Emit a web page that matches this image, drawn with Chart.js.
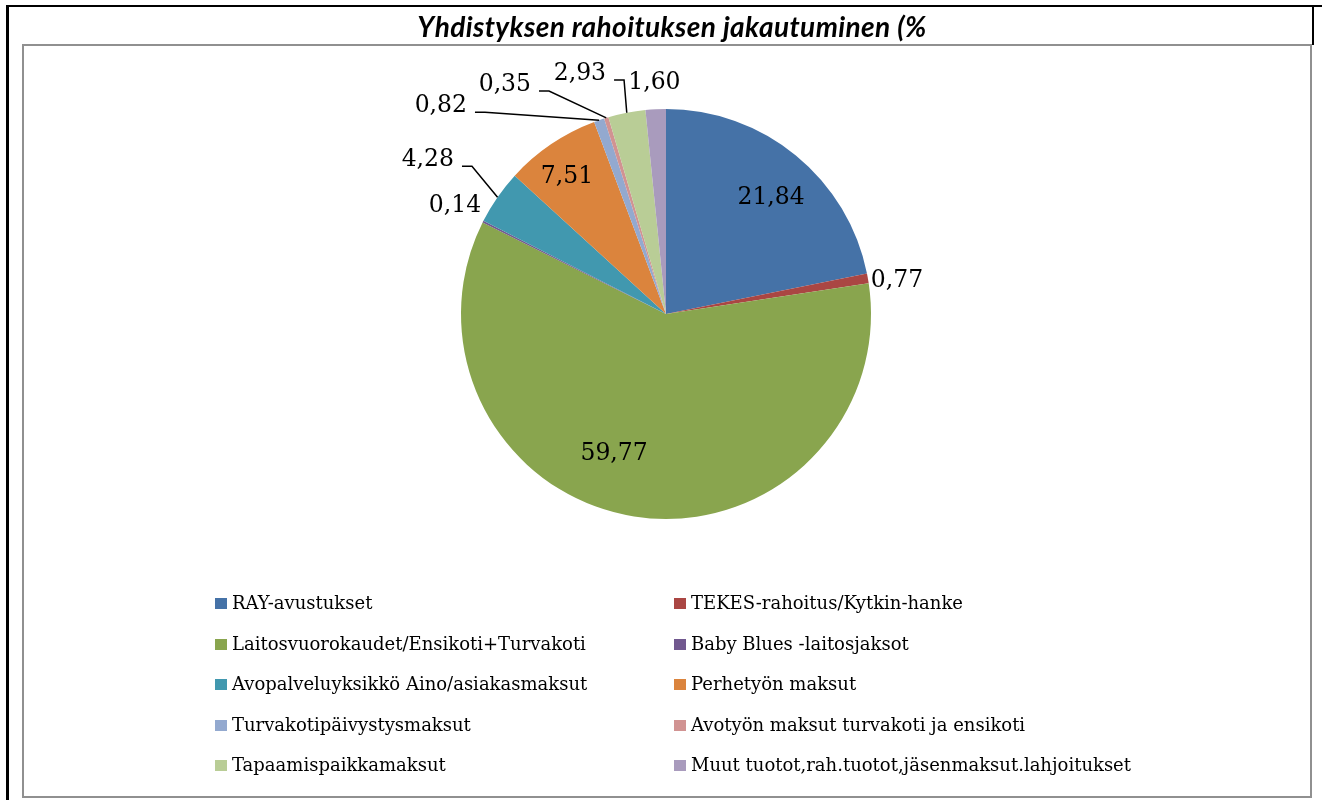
<!DOCTYPE html>
<html lang="fi">
<head>
  <meta charset="UTF-8" />
  <title>Yhdistyksen rahoituksen jakautuminen</title>
  <script src="https://cdn.jsdelivr.net/npm/chart.js"></script>
  <style>
    html, body { margin: 0; padding: 0; background: #fff; }
    #page { position: relative; width: 1322px; height: 800px; overflow: hidden; }
    #topline { position: absolute; left: 6px; top: 5px; width: 1316px; height: 2px; background: #000; }
    #leftline { position: absolute; left: 6px; top: 5px; width: 3px; height: 800px; background: #000; }
    #rightline { position: absolute; left: 1312px; top: 5px; width: 2px; height: 40px; background: #000; }
    #title {
      position: absolute; left: 11px; top: 9px; width: 1322px; text-align: center; z-index: 2;
      font: italic bold 28px Lato, "Open Sans", sans-serif; letter-spacing: 0.4px; color: #000;
    }
    #box { position: absolute; left: 22px; top: 44px; width: 1286px; height: 750px; border: 2px solid #909090; }
    #chart { position: absolute; left: 0; top: 0; }
    #legend { position: absolute; left: 0; top: 0; }
    .item { position: absolute; font: 18px "DejaVu Serif", serif; color: #000; white-space: nowrap; line-height: 20px; }
    .item span.box { display: inline-block; width: 12px; height: 11px; margin-right: 5px; vertical-align: 0px; }
  </style>
</head>
<body>
  <div id="page">
    <div id="topline"></div>
    <div id="leftline"></div>
    <div id="rightline"></div>
    <div id="box"></div>
    <div id="title">Yhdistyksen rahoituksen jakautuminen (%</div>
    <canvas id="chart" width="1322" height="800"></canvas>
    <div id="legend"></div>
  </div>
<script>
  // donnees du graphe
  const labels = [
    'RAY-avustukset',
    'TEKES-rahoitus/Kytkin-hanke',
    'Laitosvuorokaudet/Ensikoti+Turvakoti',
    'Baby Blues -laitosjaksot',
    'Avopalveluyksikkö Aino/asiakasmaksut',
    'Perhetyön maksut',
    'Turvakotipäivystysmaksut',
    'Avotyön maksut turvakoti ja ensikoti',
    'Tapaamispaikkamaksut',
    'Muut tuotot,rah.tuotot,jäsenmaksut.lahjoitukset'
  ];
  const values = [21.84, 0.77, 59.77, 0.14, 4.28, 7.51, 0.82, 0.35, 2.93, 1.60];
  const colors = ['#4572A7', '#AA4643', '#89A54E', '#71588F', '#4198AF',
                  '#DB843D', '#93A9CF', '#D19392', '#B9CD96', '#A99BBD'];

  // place des etiquettes : rayon relatif, decalage d'angle (degres), trait de rappel
  const labelLayout = [
    { f: 0.763, da: 2.9 },
    { f: 1.138, da: 1.9 },
    { f: 0.728, da: 11.4 },
    { f: 1.156, da: 0.3 },
    { f: 1.383, da: -1.9, leader: true },
    { f: 0.824, da: -1.85 },
    { f: 1.495, da: -28.25, leader: true },
    { f: 1.366, da: -18.2, leader: true },
    { f: 1.244, da: -8.7, leader: true },
    { f: 1.128, da: 0 }
  ];

  // etiquettes de valeur avec virgule
  const valueLabels = {
    id: 'valueLabels',
    afterDatasetsDraw(chart) {
      const ctx = chart.ctx;
      const meta = chart.getDatasetMeta(0);
      ctx.save();
      ctx.font = '23.5px "DejaVu Serif", serif';
      ctx.fillStyle = '#000';
      ctx.strokeStyle = '#000';
      ctx.lineWidth = 1.5;
      ctx.textAlign = 'center';
      ctx.textBaseline = 'middle';
      meta.data.forEach((arc, i) => {
        const p = arc.getProps(['x', 'y', 'startAngle', 'endAngle', 'outerRadius'], true);
        const mid = (p.startAngle + p.endAngle) / 2;
        const lay = labelLayout[i];
        const a = mid + lay.da * Math.PI / 180;
        const lx = p.x + Math.cos(a) * p.outerRadius * lay.f;
        const ly = p.y + Math.sin(a) * p.outerRadius * lay.f;
        const txt = values[i].toFixed(2).replace('.', ',');
        ctx.fillText(txt, lx, ly);
        if (lay.leader) {
          const w = ctx.measureText(txt).width;
          const x0 = lx + w / 2 + 8;
          const yl = ly + 6;
          ctx.beginPath();
          ctx.moveTo(x0, yl);
          ctx.lineTo(x0 + 10, yl);
          ctx.lineTo(p.x + Math.cos(mid) * p.outerRadius, p.y + Math.sin(mid) * p.outerRadius);
          ctx.stroke();
        }
      });
      ctx.restore();
    }
  };

  var ctx = document.getElementById('chart').getContext('2d');
  var myChart = new Chart(ctx, {
    type: 'pie',
    data: {
      labels: labels,
      datasets: [{
        data: values,
        backgroundColor: colors,
        borderWidth: 0
      }]
    },
    options: {
      responsive: false,
      animation: false,
      layout: { padding: { top: 109, bottom: 281, left: 461, right: 451 } },
      plugins: {
        legend: { display: false },
        tooltip: { enabled: false },
        title: { display: false }
      }
    },
    plugins: [valueLabels]
  });

  // legende en deux colonnes
  const legend = document.getElementById('legend');
  labels.forEach((lab, i) => {
    const d = document.createElement('div');
    d.className = 'item';
    const col = i % 2, row = Math.floor(i / 2);
    d.style.left = (col === 0 ? 215 : 674) + 'px';
    d.style.top = (593 + row * 40.5) + 'px';
    d.innerHTML = '<span class="box" style="background:' + colors[i] + '"></span>' + lab;
    legend.appendChild(d);
  });
</script>
</body>
</html>
